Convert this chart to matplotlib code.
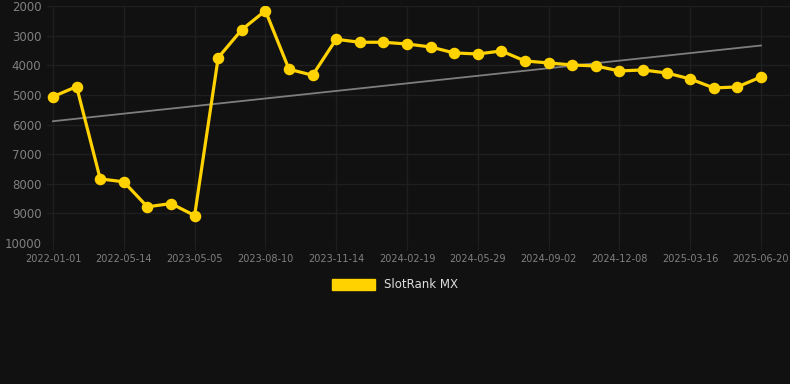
import numpy as np
import matplotlib
matplotlib.use("Agg")
import matplotlib.pyplot as plt

# data rank
rank = [5060, 4720, 7835, 7936, 8779, 8668, 9073, 3744, 2799, 2159,
        4135, 4337, 3123, 3224, 3224, 3282, 3383, 3585, 3619, 3518,
        3855, 3922, 3990, 4024, 4192, 4159, 4260, 4462, 4766, 4732, 4395]
tick_labels = ["2022-01-01", "2022-05-14", "2023-05-05", "2023-08-10", "2023-11-14",
               "2024-02-19", "2024-05-29", "2024-09-02", "2024-12-08", "2025-03-16",
               "2025-06-20"]
y_ticks = [2000, 3000, 4000, 5000, 6000, 7000, 8000, 9000, 10000]

bg = "#111111"
gold = "#FFD200"

x = np.arange(len(rank))
tick_pos = x[::3]

fig = plt.figure(figsize=(7.9, 3.84), dpi=100, facecolor=bg)
ax = fig.add_axes([47 / 790, 1 - 243 / 384, 1 - 47 / 790, (243 - 6) / 384])
ax.set_facecolor(bg)

# garis tren (regresi linear)
k, b = np.polyfit(x, rank, 1)
ax.plot(x, k * x + b, color="#7e7e7e", lw=1.3, zorder=2)

ax.plot(x, rank, color=gold, lw=2.3, marker="o", ms=7.3, zorder=3, label="SlotRank MX")

ax.set_ylim(10000, 2000)
ax.set_xlim(-0.254, 31.23)
ax.set_yticks(y_ticks)
ax.set_xticks(tick_pos)
ax.set_xticklabels(tick_labels)
ax.grid(True, color="#1f1f1f", lw=1)
ax.set_axisbelow(True)
for s in ax.spines.values():
    s.set_visible(False)
ax.tick_params(axis="y", length=0, pad=4, labelsize=8.5, labelcolor="#808080")
ax.tick_params(axis="x", length=5, color="#1f1f1f", pad=3, labelsize=7, labelcolor="#808080")

leg = fig.legend(handles=[plt.Rectangle((0, 0), 1, 1, color=gold)], labels=["SlotRank MX"],
                 loc="center", bbox_to_anchor=(395 / 790, 1 - 285 / 384), frameon=False,
                 handlelength=3.6, handleheight=1.0, fontsize=8.5, labelcolor="#dddddd")

fig.savefig("out.png", facecolor=bg)
